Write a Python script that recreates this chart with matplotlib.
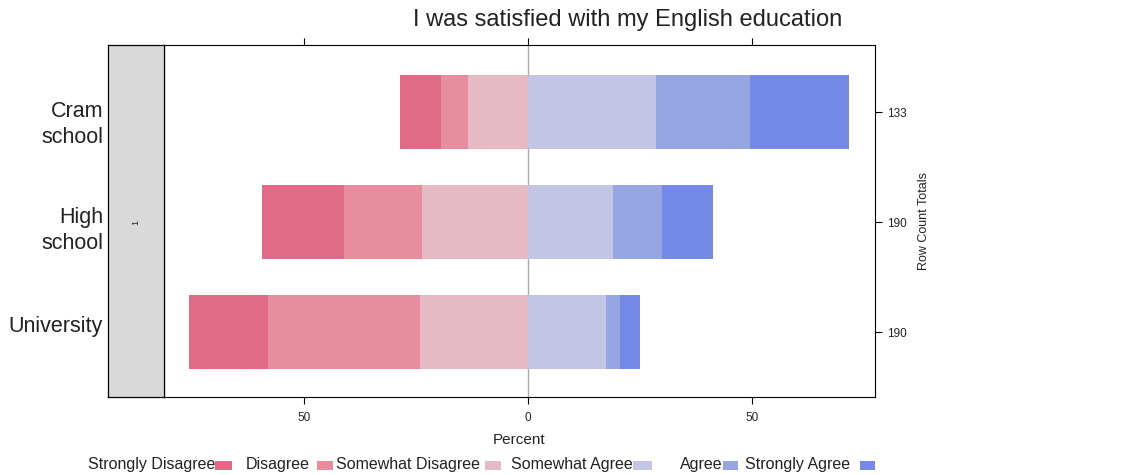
import matplotlib
matplotlib.use('Agg')
import matplotlib.pyplot as plt
from matplotlib.patches import Rectangle
import numpy as np

plt.rcParams['font.family'] = ['Liberation Sans', 'DejaVu Sans']
plt.rcParams['text.color'] = '#222222'
plt.rcParams['axes.labelcolor'] = '#222222'
plt.rcParams['xtick.labelcolor'] = '#222222'
plt.rcParams['ytick.labelcolor'] = '#222222'

# Likert data (percent of row)
groups = ['Cram\nschool', 'High\nschool', 'University']
totals = [133, 190, 190]
levels = ['Strongly Disagree', 'Disagree', 'Somewhat Disagree',
          'Somewhat Agree', 'Agree', 'Strongly Agree']
strongly_disagree = [9.2, 18.3, 17.6]
disagree = [6.0, 17.4, 33.8]
somewhat_disagree = [13.4, 23.6, 24.2]
somewhat_agree = [28.6, 18.9, 17.4]
agree = [21.0, 11.0, 3.2]
strongly_agree = [22.1, 11.4, 4.3]
colors = ['#E16A87', '#E78D9E', '#E6BAC4', '#C2C6E4', '#96A6E2', '#748AE6']
xticks = [-50, 0, 50]

W, H = 1141, 475
fig = plt.figure(figsize=[W / 100, H / 100], dpi=100)

ax = fig.add_axes([164 / W, 1 - 397 / H, 711 / W, 352 / H])
sax = fig.add_axes([108 / W, 1 - 397 / H, 56 / W, 352 / H])

ypos = np.arange(1, len(groups) + 1)
bh = 0.673

# negative side, stacked outward from zero
neg = [somewhat_disagree, disagree, strongly_disagree]
negcol = [colors[2], colors[1], colors[0]]
left = np.zeros(len(groups))
for vals, c in zip(neg, negcol):
    v = np.array(vals)
    ax.barh(ypos, -v, left=left, height=bh, color=c, linewidth=0)
    left = left - v

pos = [somewhat_agree, agree, strongly_agree]
poscol = colors[3:]
left = np.zeros(len(groups))
for vals, c in zip(pos, poscol):
    v = np.array(vals)
    ax.barh(ypos, v, left=left, height=bh, color=c, linewidth=0)
    left = left + v

ax.axvline(0, color='#AAAAAA', lw=1, zorder=0)
ax.set_xlim(-81.25, 77.46)
ax.set_ylim(3.59, 0.39)

ax.set_xticks(xticks)
ax.set_xticklabels([str(abs(t)) for t in xticks], fontsize=8.5)
ax.tick_params(axis='x', which='both', direction='out', length=5,
               top=True, labeltop=False, pad=6)
ax.set_xlabel('Percent', fontsize=11, labelpad=6)

ax.yaxis.tick_right()
ax.yaxis.set_label_position('right')
ax.set_yticks(ypos)
ax.set_yticklabels([str(t) for t in totals], fontsize=8.5)
ax.tick_params(axis='y', direction='out', length=5, pad=4)
ax.set_ylabel('Row Count Totals', fontsize=9, labelpad=8)

for sp in ax.spines.values():
    sp.set_linewidth(0.8)

# strip panel on the left
sax.set_facecolor('#D9D9D9')
sax.set_xlim(0, 1)
sax.set_ylim(3.59, 0.39)
sax.set_xticks([])
sax.set_yticks([])
sax.text(0.5, 2, '1', rotation=90, fontsize=6.5, ha='center', va='center')
for sp in sax.spines.values():
    sp.set_linewidth(0.9)

# group labels left of the strip
label_shift = [0.11, 0.08, -0.05]
ytr = sax.get_yaxis_transform()
for g, y, s in zip(groups, ypos, label_shift):
    sax.text(-0.09, y + s, g, transform=ytr, fontsize=15.5, ha='right',
             va='center', linespacing=1.32)

fig.text(628 / W, 1 - 20 / H, 'I was satisfied with my English education',
         fontsize=17, ha='center', va='center')

# legend: text right-aligned, then a colour box
txt_end = [215, 310, 480, 633, 723, 850]
box_x = [[215, 232], [317, 333], [485, 501], [633, 652], [723, 738], [860, 875]]
for lab, c, te, bx in zip(levels, colors, txt_end, box_x):
    fig.text(te / W, 1 - 465 / H, lab, fontsize=11.5, ha='right', va='center')
    fig.patches.append(Rectangle((bx[0] / W, 1 - 470 / H), (bx[1] - bx[0]) / W,
                                 9 / H, transform=fig.transFigure,
                                 facecolor=c, edgecolor='none'))

plt.savefig('out.png', dpi=100)
plt.close()
